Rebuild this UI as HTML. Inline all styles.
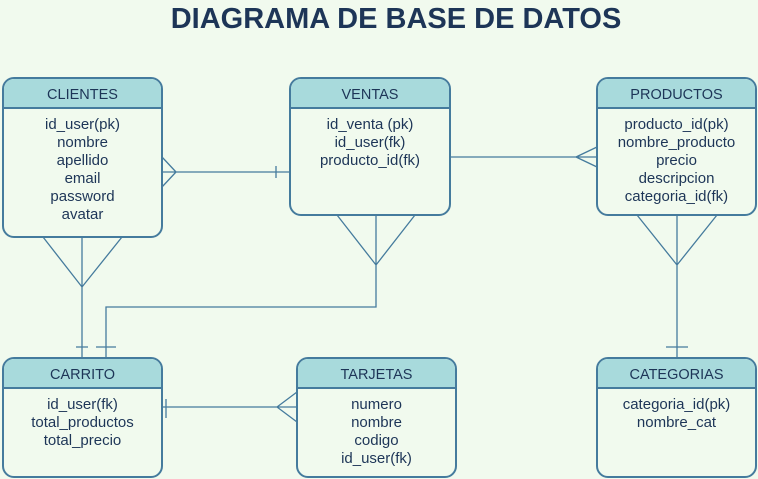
<!DOCTYPE html>
<html><head><style>
body{margin:0;width:758px;height:479px;background:#f1faee;font-family:"Liberation Sans",sans-serif;position:relative;overflow:hidden}
.t{position:absolute;left:17px;width:758px;top:3px;text-align:center;font-weight:bold;font-size:29px;color:#1d3557}
.b{position:absolute;box-sizing:border-box;border:2px solid #457b9d;border-radius:12px;background:#f1faee;overflow:hidden;color:#1d3557;text-align:center;font-size:15px}
.h{background:#a8dadc;height:28px;line-height:32px;border-bottom:2px solid #457b9d;font-size:14.5px}
.c{padding-top:7px;line-height:18px}
svg{position:absolute;left:0;top:0}
</style></head><body>
<div class="t">DIAGRAMA DE BASE DE DATOS</div>
<svg width="758" height="479" stroke="#457b9d" stroke-width="1.3" fill="none">
<path d="M162 172H290M176 172L162 157M176 172L162 187M276 166V178"/>
<path d="M450 157H597M576 157L597 147M576 157L597 167"/>
<path d="M82 237V357M43 237L82 287L122 237M76 347H88"/>
<path d="M376 215V307H106V357M337 215L376 265L415 215M96 347H116"/>
<path d="M162 407H297M277 407L297 392M277 407L297 422M166 399V418"/>
<path d="M677 215V357M637 215L677 265L717 215M666 347H688"/>
</svg>
<div class="b" style="left:2px;top:77px;width:161px;height:161px"><div class="h">CLIENTES</div><div class="c">id_user(pk)<br>nombre<br>apellido<br>email<br>password<br>avatar</div></div>
<div class="b" style="left:289px;top:77px;width:162px;height:139px"><div class="h">VENTAS</div><div class="c">id_venta (pk)<br>id_user(fk)<br>producto_id(fk)</div></div>
<div class="b" style="left:596px;top:77px;width:161px;height:139px"><div class="h">PRODUCTOS</div><div class="c">producto_id(pk)<br>nombre_producto<br>precio<br>descripcion<br>categoria_id(fk)</div></div>
<div class="b" style="left:2px;top:357px;width:161px;height:121px"><div class="h">CARRITO</div><div class="c">id_user(fk)<br>total_productos<br>total_precio</div></div>
<div class="b" style="left:296px;top:357px;width:161px;height:121px"><div class="h">TARJETAS</div><div class="c">numero<br>nombre<br>codigo<br>id_user(fk)</div></div>
<div class="b" style="left:596px;top:357px;width:161px;height:121px"><div class="h">CATEGORIAS</div><div class="c">categoria_id(pk)<br>nombre_cat</div></div>
</body></html>
